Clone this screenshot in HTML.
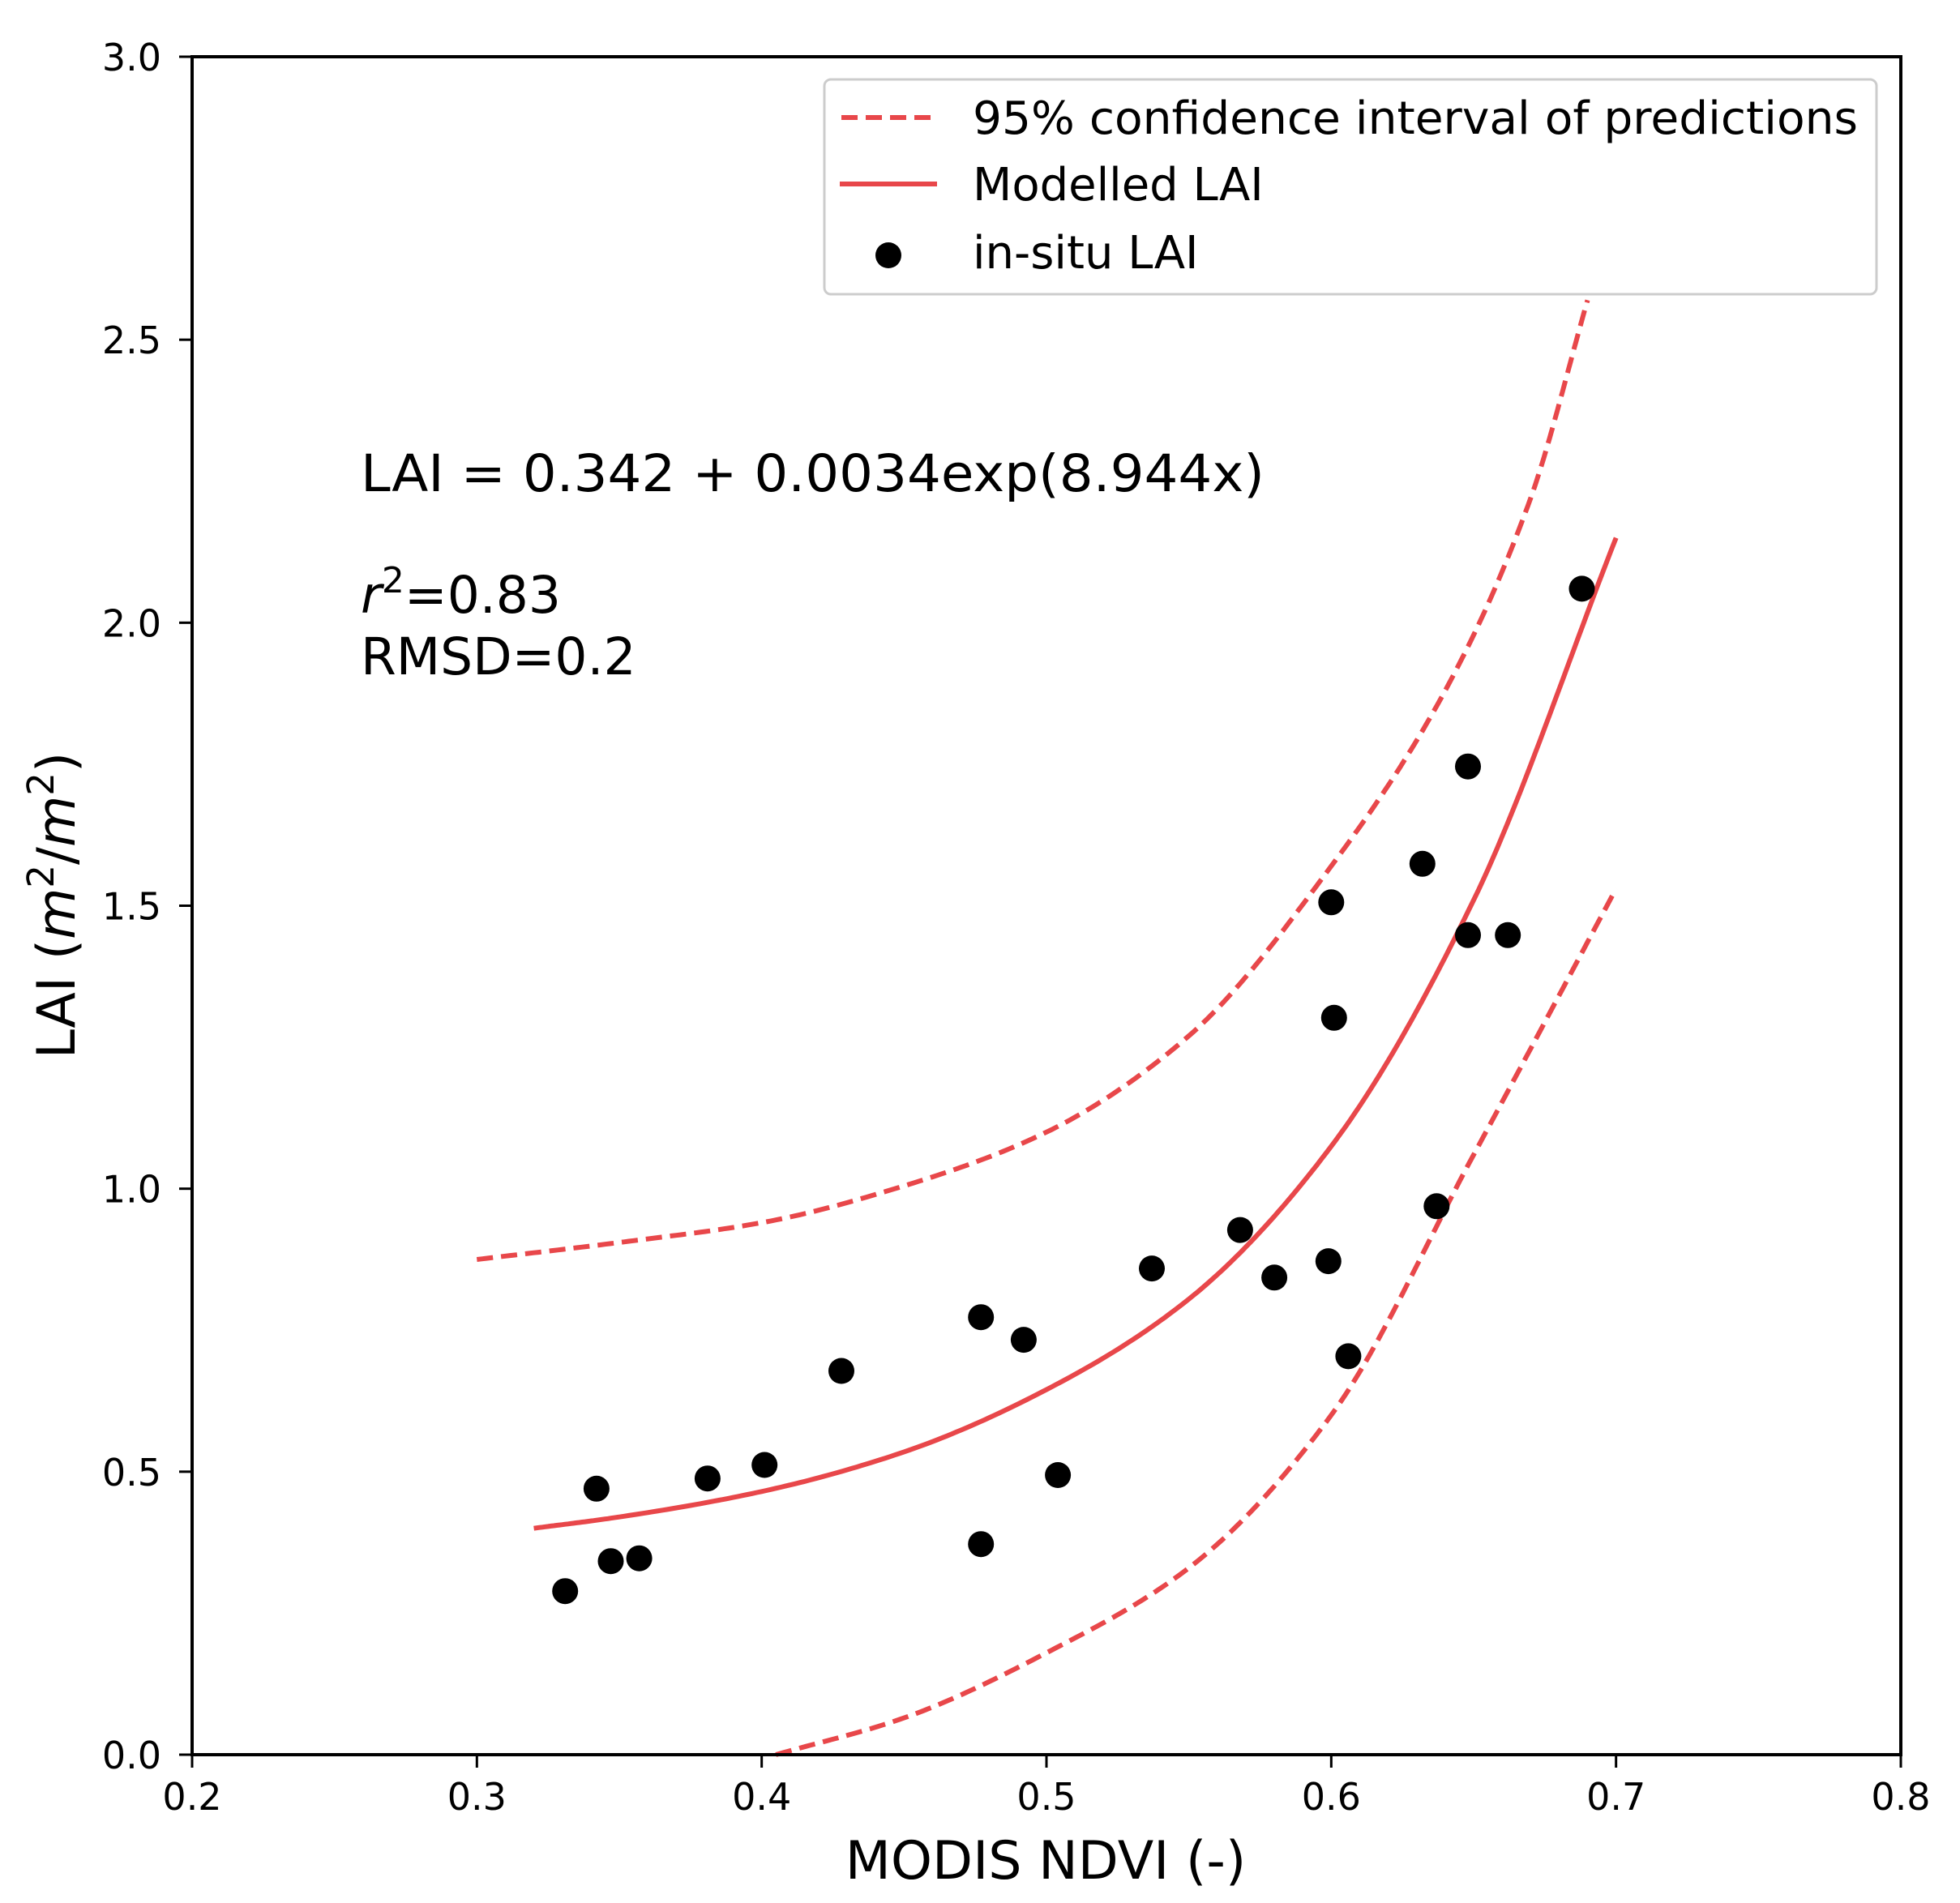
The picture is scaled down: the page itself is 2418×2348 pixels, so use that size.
<!DOCTYPE html>
<html><head><meta charset="utf-8"><style>
html,body{margin:0;padding:0;background:#fff;}
svg{display:block;font-family:"DejaVu Sans","Liberation Sans",sans-serif;}
</style></head><body>
<svg id="chart" width="2418" height="2348" viewBox="0 0 2418 2348" xmlns="http://www.w3.org/2000/svg">
<rect x="0" y="0" width="2418" height="2348" fill="#fff"/>
<g id="marks"></g>
<rect x="237" y="70" width="2108" height="2095" fill="none" stroke="#000" stroke-width="4"/>
<g id="axes"></g>
<text x="445" y="606" font-size="63" textLength="1115" lengthAdjust="spacingAndGlyphs">LAI = 0.342 + 0.0034exp(8.944x)</text>
<text x="445" y="756" font-size="63"><tspan font-style="italic">r</tspan><tspan font-size="44" dy="-25">2</tspan><tspan dy="25">=0.83</tspan></text>
<text x="445" y="832" font-size="63">RMSD=0.2</text>
<text x="1290" y="2318" font-size="65" text-anchor="middle">MODIS NDVI (-)</text>
<text transform="translate(92,1117) rotate(-90)" font-size="65" text-anchor="middle">LAI (<tspan font-style="italic">m</tspan><tspan font-size="45" dy="-26">2</tspan><tspan dy="26">/</tspan><tspan font-style="italic">m</tspan><tspan font-size="45" dy="-26">2</tspan><tspan dy="26">)</tspan></text>
<g>
<rect x="1017" y="98" width="1298" height="265" rx="8" fill="#fff" stroke="#ccc" stroke-width="3"/>
<line x1="1038" y1="145" x2="1153" y2="145" stroke="#e8474a" stroke-width="6" stroke-dasharray="20,10"/>
<text x="1200" y="165" font-size="56" textLength="1092" lengthAdjust="spacingAndGlyphs">95% confidence interval of predictions</text>
<line x1="1036" y1="227" x2="1156" y2="227" stroke="#e8474a" stroke-width="6"/>
<text x="1200" y="247" font-size="56">Modelled LAI</text>
<ellipse cx="1096" cy="315" rx="16" ry="16" fill="#000"/>
<text x="1200" y="331" font-size="56">in-situ LAI</text>
</g>
</svg>
<script>
const xTicks = [0.2,0.3,0.4,0.5,0.6,0.7,0.8];
const xTickLabels = ["0.2","0.3","0.4","0.5","0.6","0.7","0.8"];
const yTicks = [0,0.5,1,1.5,2,2.5,3];
const yTickLabels = ["0.0","0.5","1.0","1.5","2.0","2.5","3.0"];
const ndvi = [0.331,0.342,0.347,0.357,0.381,0.401,0.428,0.477,0.477,0.492,0.504,0.537,0.568,0.580,0.599,0.600,0.601,0.606,0.632,0.637,0.648,0.648,0.662,0.688];
const lai  = [0.289,0.470,0.342,0.347,0.488,0.512,0.678,0.773,0.372,0.733,0.494,0.859,0.927,0.843,0.872,1.506,1.302,0.704,1.574,0.969,1.746,1.448,1.448,2.060];
const modelX = [0.32,0.35,0.40,0.45,0.50,0.55,0.60,0.65,0.70];
const modelY = [0.40,0.42,0.465,0.535,0.645,0.805,1.075,1.51,2.15];
const upperX = [0.30,0.35,0.40,0.45,0.50,0.55,0.60,0.64,0.67,0.69];
const upperY = [0.875,0.905,0.94,1.005,1.10,1.27,1.57,1.88,2.22,2.57];
const lowerX = [0.405,0.45,0.50,0.55,0.60,0.65,0.70];
const lowerY = [0.0,0.065,0.18,0.33,0.60,1.06,1.53];

const X0=237,X1=2345,Y0=2165,Y1=70;
function sx(v){return X0+(v-0.2)/0.6*(X1-X0);}
function sy(v){return Y0-(v/3)*(Y0-Y1);}
const NS='http://www.w3.org/2000/svg';
const marks=document.getElementById('marks');
const axes=document.getElementById('axes');
function mk(t,a){const e=document.createElementNS(NS,t);for(const k in a)e.setAttribute(k,a[k]);return e;}
function monoPath(xs,ys){
  const n=xs.length,h=[],d=[],m=new Array(n);
  for(let i=0;i<n-1;i++){h[i]=xs[i+1]-xs[i];d[i]=(ys[i+1]-ys[i])/h[i];}
  m[0]=d[0];m[n-1]=d[n-2];
  for(let i=1;i<n-1;i++){
    if(d[i-1]*d[i]<=0)m[i]=0;
    else{const w1=2*h[i]+h[i-1],w2=h[i]+2*h[i-1];m[i]=(w1+w2)/(w1/d[i-1]+w2/d[i]);}
  }
  let s='';
  for(let i=0;i<n-1;i++){
    const steps=30;
    for(let k=(i===0?0:1);k<=steps;k++){
      const t=k/steps,t2=t*t,t3=t2*t;
      const y=(2*t3-3*t2+1)*ys[i]+(t3-2*t2+t)*h[i]*m[i]+(-2*t3+3*t2)*ys[i+1]+(t3-t2)*h[i]*m[i+1];
      const x=xs[i]+t*h[i];
      s+=(s===''?'M':'L')+sx(x).toFixed(1)+','+sy(y).toFixed(1);
    }
  }
  return s;
}
const up=mk('path',{d:monoPath(upperX,upperY),fill:'none',stroke:'#e8474a','stroke-width':6,'stroke-dasharray':'20,10'});


marks.appendChild(up);
const lo=mk('path',{d:monoPath(lowerX,lowerY),fill:'none',stroke:'#e8474a','stroke-width':6,'stroke-dasharray':'20,10'});


marks.appendChild(lo);
const mo=mk('path',{d:monoPath(modelX,modelY),fill:'none',stroke:'#e8474a','stroke-width':6});


marks.appendChild(mo);
ndvi.forEach((x,i)=>{
  const c=mk('ellipse',{cx:sx(x).toFixed(1),cy:sy(lai[i]).toFixed(1),rx:16,ry:16,fill:'#000'});
  
  
  marks.appendChild(c);
});
xTicks.forEach((v,i)=>{
  const t=mk('line',{x1:sx(v),y1:Y0,x2:sx(v),y2:Y0+16,stroke:'#000','stroke-width':3});
  
  
  axes.appendChild(t);
  const l=mk('text',{x:sx(v),y:2233,'font-size':46,'text-anchor':'middle'});
  
  
  l.textContent=xTickLabels[i];
  axes.appendChild(l);
});
yTicks.forEach((v,i)=>{
  const t=mk('line',{x1:X0-16,y1:sy(v),x2:X0,y2:sy(v),stroke:'#000','stroke-width':3});
  
  
  axes.appendChild(t);
  const l=mk('text',{x:199,y:sy(v)+17,'font-size':46,'text-anchor':'end'});
  
  
  l.textContent=yTickLabels[i];
  axes.appendChild(l);
});
</script>
</body></html>
